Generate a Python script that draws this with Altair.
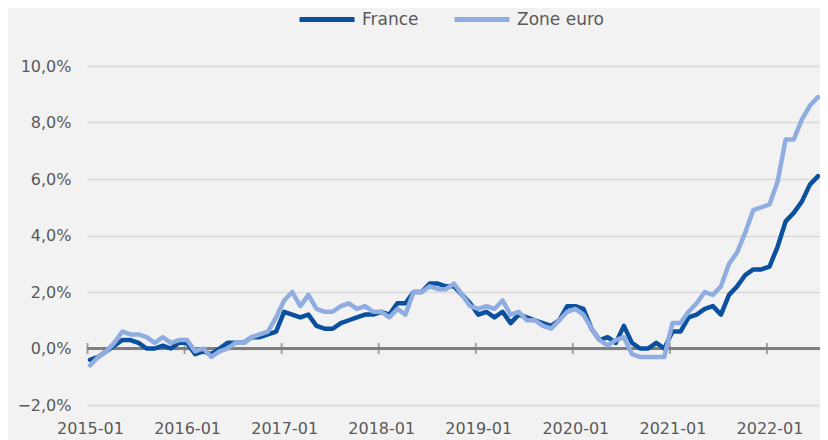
import altair as alt
import pandas as pd

months = pd.date_range("2015-01-01", "2022-07-01", freq="MS").strftime("%Y-%m").tolist()

france = [
    -0.4, -0.3, -0.1, 0.1, 0.3, 0.3, 0.2, 0.0, 0.0, 0.1, 0.0, 0.2,
    0.2, -0.2, -0.1, -0.2, 0.0, 0.2, 0.2, 0.2, 0.4, 0.4, 0.5, 0.6,
    1.3, 1.2, 1.1, 1.2, 0.8, 0.7, 0.7, 0.9, 1.0, 1.1, 1.2, 1.2,
    1.3, 1.2, 1.6, 1.6, 2.0, 2.0, 2.3, 2.3, 2.2, 2.2, 1.9, 1.6,
    1.2, 1.3, 1.1, 1.3, 0.9, 1.2, 1.1, 1.0, 0.9, 0.8, 1.0, 1.5,
    1.5, 1.4, 0.7, 0.3, 0.4, 0.2, 0.8, 0.2, 0.0, 0.0, 0.2, 0.0,
    0.6, 0.6, 1.1, 1.2, 1.4, 1.5, 1.2, 1.9, 2.2, 2.6, 2.8, 2.8,
    2.9, 3.6, 4.5, 4.8, 5.2, 5.8, 6.1,
]

zone_euro = [
    -0.6, -0.3, -0.1, 0.2, 0.6, 0.5, 0.5, 0.4, 0.2, 0.4, 0.2, 0.3,
    0.3, -0.1, 0.0, -0.3, -0.1, 0.0, 0.2, 0.2, 0.4, 0.5, 0.6, 1.1,
    1.7, 2.0, 1.5, 1.9, 1.4, 1.3, 1.3, 1.5, 1.6, 1.4, 1.5, 1.3,
    1.3, 1.1, 1.4, 1.2, 2.0, 2.0, 2.2, 2.1, 2.1, 2.3, 1.9, 1.5,
    1.4, 1.5, 1.4, 1.7, 1.2, 1.3, 1.0, 1.0, 0.8, 0.7, 1.0, 1.3,
    1.4, 1.2, 0.7, 0.3, 0.1, 0.3, 0.4, -0.2, -0.3, -0.3, -0.3, -0.3,
    0.9, 0.9, 1.3, 1.6, 2.0, 1.9, 2.2, 3.0, 3.4, 4.1, 4.9, 5.0,
    5.1, 5.9, 7.4, 7.4, 8.1, 8.6, 8.9,
]

series_names = ["France", "Zone euro"]
series_colors = ["#0A509E", "#8FADE0"]
y_ticks = [-2, 0, 2, 4, 6, 8, 10]

rows = []
for name, vals in zip(series_names, [france, zone_euro]):
    for i, (m, v) in enumerate(zip(months, vals)):
        rows.append({"idx": i, "mois": m, "serie": name, "valeur": v})
df = pd.DataFrame(rows)

jan_idx = [i for i, m in enumerate(months) if m.endswith("-01")]
start_year = int(months[0][:4])
ticks_df = pd.DataFrame({"idx": jan_idx, "zero": [0] * len(jan_idx)})

FONT = "DejaVu Sans"
GRAY = "#595959"
n = len(months) - 1

x_scale = alt.Scale(domain=[-0.371, n + 0.247], nice=False, zero=False)
y_scale = alt.Scale(domain=[-2, 10], nice=False)

x_axis = alt.Axis(
    values=jan_idx,
    labelExpr=f"({start_year} + round(datum.value / 12)) + '-01'",
    domain=False, ticks=False, grid=False,
    labelFont=FONT, labelFontSize=16, labelColor=GRAY,
    labelPadding=15, title=None,
)
y_axis = alt.Axis(
    values=y_ticks,
    labelExpr="replace(format(datum.value, '.1f'), '.', ',') + '%'",
    domain=False, ticks=False, grid=True,
    gridColor="#D9D9D9", gridWidth=1.5,
    labelFont=FONT, labelFontSize=16, labelColor=GRAY,
    labelPadding=16, title=None,
)

zero_rule = alt.Chart(ticks_df).mark_rule(color="#7F7F7F", strokeWidth=2).encode(
    y=alt.Y("zero:Q", scale=y_scale, axis=y_axis),
)

tick_marks = alt.Chart(ticks_df).mark_tick(
    orient="vertical", size=11, thickness=2, color="#7F7F7F", xOffset=-2.5
).encode(
    x=alt.X("idx:Q", scale=x_scale, axis=x_axis),
    y=alt.Y("zero:Q", scale=y_scale, axis=y_axis),
)

lines = alt.Chart(df).mark_line(strokeWidth=4.5, strokeJoin="round", strokeCap="round").encode(
    x=alt.X("idx:Q", scale=x_scale, axis=x_axis),
    y=alt.Y("valeur:Q", scale=y_scale, axis=y_axis),
    color=alt.Color(
        "serie:N",
        scale=alt.Scale(domain=series_names, range=series_colors),
        legend=alt.Legend(
            title=None, orient="none", direction="horizontal",
            legendX=210, legendY=-76.5,
            symbolType="stroke", symbolSize=3025, symbolStrokeWidth=5,
            labelFont=FONT, labelFontSize=17, labelColor=GRAY,
            labelOffset=5, columnPadding=25, padding=0,
        ),
    ),
    order=alt.Order("idx:Q"),
)

chart = alt.layer(zero_rule, tick_marks, lines).properties(
    width=733, height=339,
    autosize=alt.AutoSizeParams(type="none"),
    padding={"left": 79, "top": 58, "right": 0, "bottom": 35},
    background="#F2F2F2",
).configure_view(stroke=None)

chart.save("out.html", embed_options={"renderer": "svg", "actions": False})
